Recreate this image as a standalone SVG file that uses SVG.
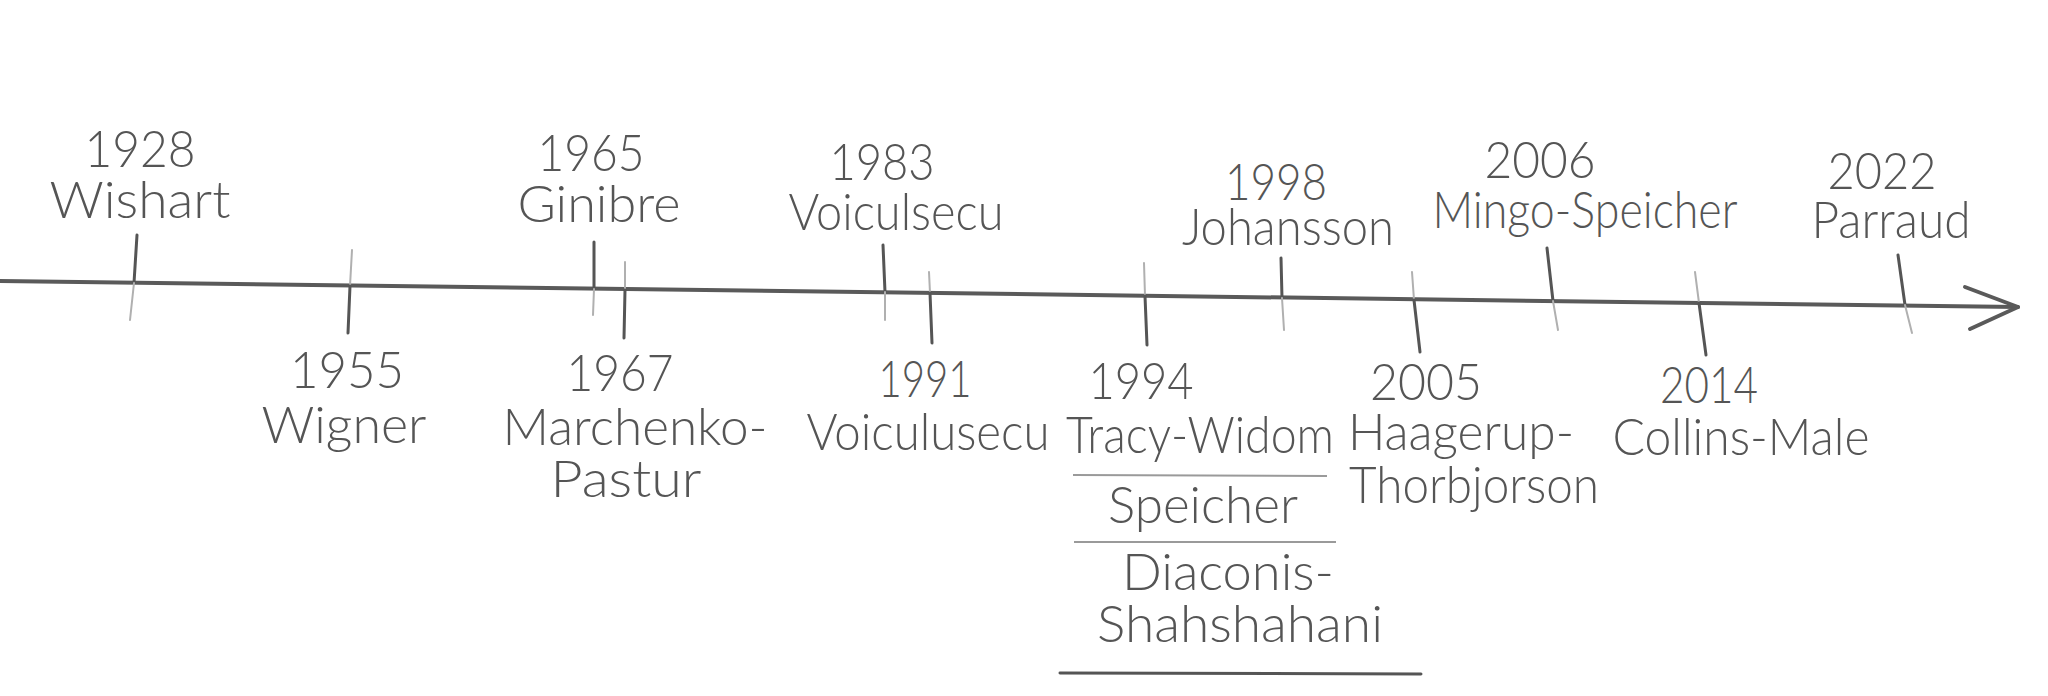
<svg xmlns="http://www.w3.org/2000/svg" width="2048" height="696" viewBox="0 0 2048 696">
<style>
text{font-family:Lato,"Noto Sans","Liberation Sans",sans-serif;font-size:51px;font-weight:300;fill:#555;text-anchor:middle}
.dk{stroke:#555;stroke-width:3;stroke-linecap:round;fill:none}
.lt{stroke:#b0b0b0;stroke-width:2;stroke-linecap:round;fill:none}
.sep{stroke:#9a9a9a;stroke-width:2;fill:none}
.ax{stroke:#5a5a5a;stroke-width:4;stroke-linecap:round;stroke-linejoin:round;fill:none}
</style>
<rect width="2048" height="696" fill="#fff"/>
<g id="connectors">
<path class="ax" d="M0 281 L2018 307"/>
<path class="ax" d="M1965 287 L2018 307 L1970 329"/>
</g>
<g id="e1928"><path class="dk" d="M137 235 L134 283"/><path class="lt" d="M134 283 L130 320"/>
<text x="140" y="167" textLength="111" lengthAdjust="spacingAndGlyphs">1928</text><text x="140" y="218" textLength="181" lengthAdjust="spacingAndGlyphs">Wishart</text></g>
<g id="e1955"><path class="lt" d="M352 250 L350 286"/><path class="dk" d="M350 286 L348 333"/>
<text x="347" y="388" textLength="114" lengthAdjust="spacingAndGlyphs">1955</text><text x="344" y="443" textLength="165" lengthAdjust="spacingAndGlyphs">Wigner</text></g>
<g id="e1965"><path class="dk" d="M594 242 L594 289"/><path class="lt" d="M594 289 L593 315"/>
<text x="591" y="171" textLength="107" lengthAdjust="spacingAndGlyphs">1965</text><text x="599" y="222" textLength="163" lengthAdjust="spacingAndGlyphs">Ginibre</text></g>
<g id="e1967"><path class="lt" d="M625 262 L625 290"/><path class="dk" d="M625 290 L624 338"/>
<text x="620" y="391" textLength="107" lengthAdjust="spacingAndGlyphs">1967</text><text x="635" y="445" textLength="265" lengthAdjust="spacingAndGlyphs">Marchenko-</text><text x="626" y="497" textLength="151" lengthAdjust="spacingAndGlyphs">Pastur</text></g>
<g id="e1983"><path class="dk" d="M883 245 L885 292"/><path class="lt" d="M885 292 L885 320"/>
<text x="882" y="180" textLength="105" lengthAdjust="spacingAndGlyphs">1983</text><text x="896" y="230" textLength="215" lengthAdjust="spacingAndGlyphs">Voiculsecu</text></g>
<g id="e1991"><path class="lt" d="M929 272 L930 293"/><path class="dk" d="M930 293 L932 343"/>
<text x="925" y="397" textLength="93" lengthAdjust="spacingAndGlyphs">1991</text><text x="928" y="450" textLength="243" lengthAdjust="spacingAndGlyphs">Voiculusecu</text></g>
<g id="e1994"><path class="lt" d="M1144 263 L1145 296"/><path class="dk" d="M1145 296 L1147 345"/>
<text x="1141" y="399" textLength="105" lengthAdjust="spacingAndGlyphs">1994</text>
<text x="1200" y="453" textLength="268" lengthAdjust="spacingAndGlyphs">Tracy-Widom</text>
<path class="sep" d="M1073 475 L1327 476"/>
<text x="1203" y="523" textLength="190" lengthAdjust="spacingAndGlyphs">Speicher</text>
<path class="sep" d="M1074 542 L1336 542"/>
<text x="1228" y="590" textLength="212" lengthAdjust="spacingAndGlyphs">Diaconis-</text>
<text x="1240" y="642" textLength="286" lengthAdjust="spacingAndGlyphs">Shahshahani</text>
<path class="dk" d="M1060 673 L1421 674"/></g>
<g id="e1998"><path class="dk" d="M1281 258 L1282 298"/><path class="lt" d="M1282 298 L1284 330"/>
<text x="1276" y="200" textLength="102" lengthAdjust="spacingAndGlyphs">1998</text><text x="1288" y="245" textLength="212" lengthAdjust="spacingAndGlyphs">Johansson</text></g>
<g id="e2005"><path class="lt" d="M1412 272 L1414 300"/><path class="dk" d="M1414 300 L1420 352"/>
<text x="1426" y="400" textLength="112" lengthAdjust="spacingAndGlyphs">2005</text><text x="1461" y="450" textLength="226" lengthAdjust="spacingAndGlyphs">Haagerup-</text><text x="1474" y="503" textLength="250" lengthAdjust="spacingAndGlyphs">Thorbjorson</text></g>
<g id="e2006"><path class="dk" d="M1547 248 L1553 301"/><path class="lt" d="M1553 301 L1558 330"/>
<text x="1540" y="178" textLength="111" lengthAdjust="spacingAndGlyphs">2006</text><text x="1585" y="228" textLength="305" lengthAdjust="spacingAndGlyphs">Mingo-Speicher</text></g>
<g id="e2014"><path class="lt" d="M1695 272 L1699 303"/><path class="dk" d="M1699 303 L1706 355"/>
<text x="1709" y="403" textLength="98" lengthAdjust="spacingAndGlyphs">2014</text><text x="1741" y="455" textLength="257" lengthAdjust="spacingAndGlyphs">Collins-Male</text></g>
<g id="e2022"><path class="dk" d="M1898 255 L1905 305"/><path class="lt" d="M1905 305 L1912 333"/>
<text x="1882" y="189" textLength="109" lengthAdjust="spacingAndGlyphs">2022</text><text x="1891" y="238" textLength="159" lengthAdjust="spacingAndGlyphs">Parraud</text></g>
</svg>
